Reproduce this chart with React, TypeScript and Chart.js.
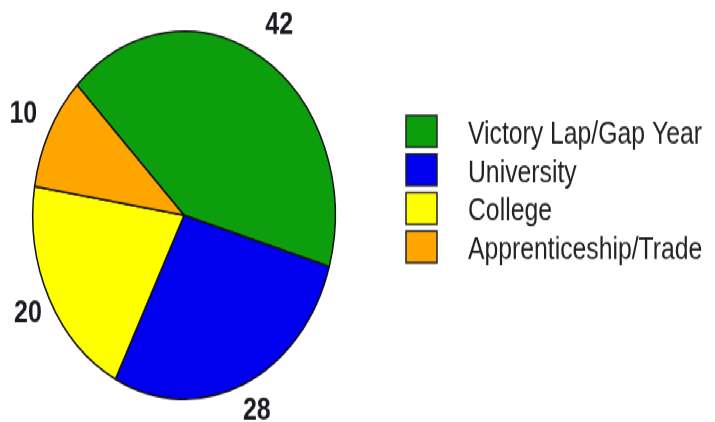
import React, { useEffect, useRef } from "react";
import { Chart, registerables } from "chart.js";

Chart.register(...registerables);

const categories = ["Victory Lap/Gap Year", "University", "College", "Apprenticeship/Trade"];
const values = [42, 28, 20, 10];
const sliceColors = ["rgb(12,158,12)", "rgb(0,0,238)", "rgb(255,255,0)", "rgb(255,165,0)"];

const W = 715;
const H = 347;
const STRETCH = 422 / H;

const labelPlugin = {
  id: "outerLabels",
  afterDatasetsDraw(chart: any) {
    const ctx = chart.ctx;
    const meta = chart.getDatasetMeta(0);
    const data = chart.data.datasets[0].data;
    ctx.save();
    ctx.font = "bold 25px 'Liberation Sans', Arial, sans-serif";
    ctx.fillStyle = "#1a1a22";
    ctx.textAlign = "center";
    ctx.textBaseline = "middle";
    meta.data.forEach((arc: any, i: number) => {
      const { x, y, startAngle, endAngle, outerRadius } = arc.getProps(
        ["x", "y", "startAngle", "endAngle", "outerRadius"],
        true
      );
      const mid = (startAngle + endAngle) / 2;
      const s = Math.sin(mid);
      const r = outerRadius + 30 - 6 * Math.max(0, s) + 6 * Math.max(0, -s * Math.max(0, -Math.cos(mid)));
      ctx.fillText(String(data[i]), x + 3 + Math.cos(mid) * r, y + s * r);
    });
    ctx.restore();
  },
};

const legendPlugin = {
  id: "customLegend",
  afterDraw(chart: any) {
    const ctx = chart.ctx;
    const labels = chart.data.labels as string[];
    const colors = chart.data.datasets[0].backgroundColor as string[];
    const boxX = 406;
    const boxW = 31;
    const boxH = 26;
    const firstCenter = 108;
    const pitch = 31.7;
    const textX = 468;
    const squeeze = 0.99;
    ctx.save();
    ctx.font = "25px 'Liberation Sans', Arial, sans-serif";
    ctx.textBaseline = "middle";
    ctx.textAlign = "left";
    labels.forEach((lab, i) => {
      const cy = firstCenter + i * pitch;
      ctx.fillStyle = colors[i];
      ctx.fillRect(boxX, cy - boxH / 2, boxW, boxH);
      ctx.strokeStyle = "#222";
      ctx.lineWidth = 1.5;
      ctx.strokeRect(boxX, cy - boxH / 2, boxW, boxH);
      ctx.save();
      ctx.translate(textX, cy + 3);
      ctx.scale(squeeze, 1);
      ctx.fillStyle = "#222";
      ctx.fillText(lab, 0, 0);
      ctx.restore();
    });
    ctx.restore();
  },
};

export default function App() {
  const ref = useRef<HTMLCanvasElement | null>(null);
  useEffect(() => {
    if (!ref.current) return;
    const chart = new Chart(ref.current, {
      type: "pie",
      data: {
        labels: categories,
        datasets: [
          {
            data: values,
            backgroundColor: sliceColors,
            borderColor: "#111",
            borderWidth: 1.5,
          },
        ],
      },
      options: {
        animation: false,
        responsive: false,
        devicePixelRatio: 1,
        rotation: -45,
        layout: { padding: { left: 32, top: 25, right: 379, bottom: 18 } },
        plugins: {
          legend: { display: false },
          tooltip: { enabled: false },
        },
      },
      plugins: [labelPlugin, legendPlugin],
    });
    return () => chart.destroy();
  }, []);
  return (
    <div
      style={{
        position: "fixed",
        left: 0,
        top: 0,
        width: W,
        height: H,
        background: "#fff",
        transform: `scaleY(${STRETCH})`,
        transformOrigin: "0 0",
      }}
    >
      <canvas ref={ref} width={W} height={H} />
    </div>
  );
}
